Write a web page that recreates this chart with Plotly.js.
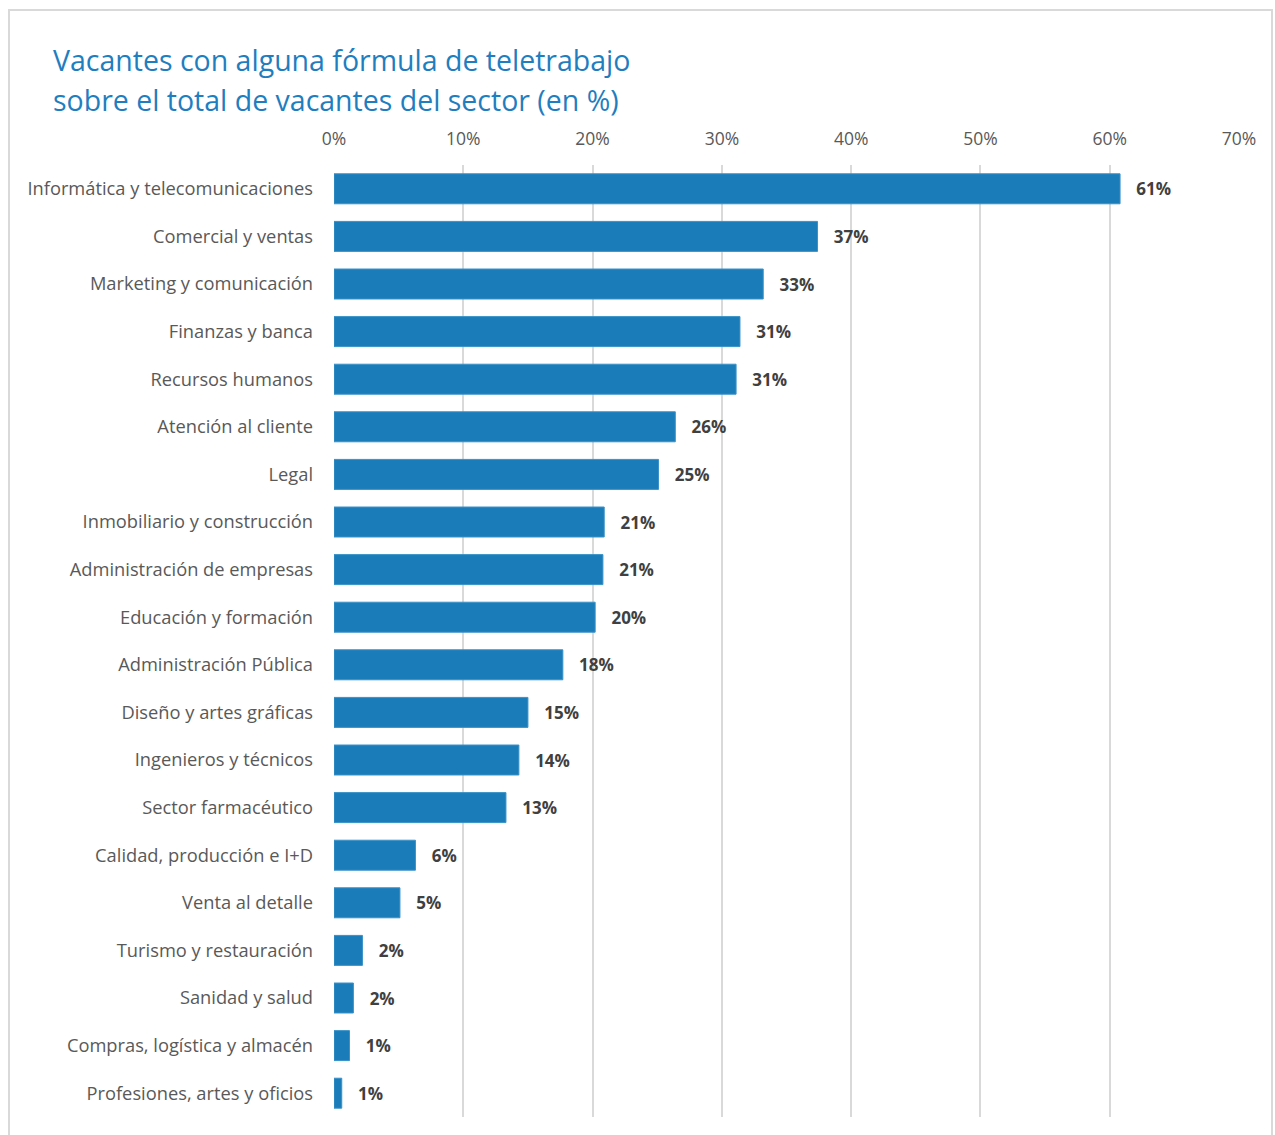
<!DOCTYPE html>
<html>
<head>
<meta charset="utf-8">
<script src="https://cdn.plot.ly/plotly-3.0.1.min.js"></script>
<style>
html,body{margin:0;padding:0;background:#fff;}
#chart{width:1275px;height:1135px;}
</style>
</head>
<body>
<div id="chart"></div>
<script>
const categories = [
  "Informática y telecomunicaciones",
  "Comercial y ventas",
  "Marketing y comunicación",
  "Finanzas y banca",
  "Recursos humanos",
  "Atención al cliente",
  "Legal",
  "Inmobiliario y construcción",
  "Administración de empresas",
  "Educación y formación",
  "Administración Pública",
  "Diseño y artes gráficas",
  "Ingenieros y técnicos",
  "Sector farmacéutico",
  "Calidad, producción e I+D",
  "Venta al detalle",
  "Turismo y restauración",
  "Sanidad y salud",
  "Compras, logística y almacén",
  "Profesiones, artes y oficios"
];
const values = [60.8, 37.4, 33.2, 31.4, 31.1, 26.4, 25.1, 20.9, 20.8, 20.2, 17.7, 15.0, 14.3, 13.3, 6.3, 5.1, 2.2, 1.5, 1.2, 0.6];
const valueLabels = ["61%", "37%", "33%", "31%", "31%", "26%", "25%", "21%", "21%", "20%", "18%", "15%", "14%", "13%", "6%", "5%", "2%", "2%", "1%", "1%"];
const tickValues = [0, 10, 20, 30, 40, 50, 60, 70];
const tickLabels = ["0%", "10%", "20%", "30%", "40%", "50%", "60%", "70%"];
const titleLines = [
  "Vacantes con alguna fórmula de teletrabajo",
  "sobre el total de vacantes del sector (en %)"
];

const FONT = "Open Sans, Noto Sans, sans-serif";

const trace = {
  type: "bar",
  orientation: "h",
  x: values,
  y: categories,
  text: valueLabels,
  texttemplate: "   %{text}",
  textposition: "outside",
  cliponaxis: false,
  textfont: {family: FONT, size: 17, color: "#404040", weight: "bold"},
  marker: {color: "#1a7cb8", line: {color: "#3a92c8", width: 1}},
  hoverinfo: "skip"
};

const titleFont = {family: FONT, size: 28.5, color: "#1f7ec0"};

const layout = {
  width: 1275,
  height: 1135,
  margin: {l: 334, r: 36, t: 165, b: 18},
  paper_bgcolor: "#ffffff",
  plot_bgcolor: "#ffffff",
  showlegend: false,
  bargap: 0.37,
  font: {family: FONT, color: "#595959"},
  xaxis: {
    side: "top",
    range: [0, 70],
    tickvals: tickValues,
    ticktext: tickLabels,
    tickfont: {family: FONT, size: 17.5, color: "#595959"},
    showgrid: true,
    gridcolor: "#d9d9d9",
    gridwidth: 2,
    zeroline: false,
    showline: false,
    ticks: "",
    ticklabelstandoff: 16,
    fixedrange: true
  },
  yaxis: {
    autorange: "reversed",
    type: "category",
    tickfont: {family: FONT, size: 18.3, color: "#595959"},
    ticks: "",
    ticklabelstandoff: 20,
    showline: false,
    showgrid: false,
    fixedrange: true
  },
  annotations: [
    {text: titleLines[0], xref: "paper", yref: "paper", x: -283/905, y: 1057/952,
     xanchor: "left", yanchor: "middle", showarrow: false, font: titleFont},
    {text: titleLines[1], xref: "paper", yref: "paper", x: -283/905, y: 1017/952,
     xanchor: "left", yanchor: "middle", showarrow: false, font: titleFont}
  ],
  shapes: [{
    type: "rect", xref: "paper", yref: "paper",
    x0: -325/905, x1: 1 + 33/905,
    y0: -30/952, y1: 1 + 155/952,
    line: {color: "#d9d9d9", width: 2},
    fillcolor: "rgba(0,0,0,0)",
    layer: "below"
  }]
};

Plotly.newPlot("chart", [trace], layout, {displayModeBar: false, staticPlot: true});
</script>
</body>
</html>
